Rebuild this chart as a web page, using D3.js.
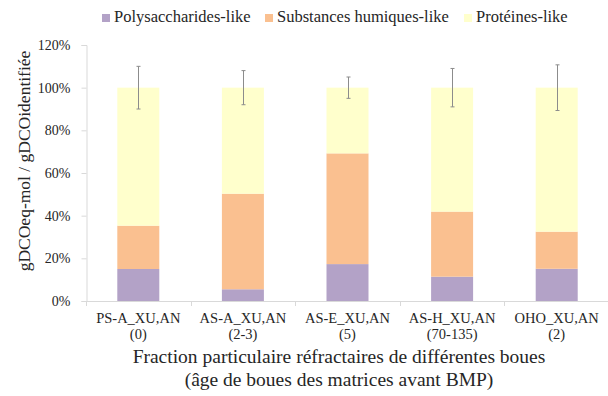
<!DOCTYPE html>
<html>
<head>
<meta charset="utf-8">
<script src="https://cdn.jsdelivr.net/npm/d3@7"></script>
<style>
  html, body { margin: 0; padding: 0; background: #fff; }
  svg { display: block; }
  svg text { font-family: "Liberation Serif", "Times New Roman", serif; }
</style>
</head>
<body>
<svg id="chart" width="608" height="396"></svg>
<script>
// Sludge fractions and their age labels
const categories = ["PS-A_XU,AN", "AS-A_XU,AN", "AS-E_XU,AN", "AS-H_XU,AN", "OHO_XU,AN"];
const ages = ["(0)", "(2-3)", "(5)", "(70-135)", "(2)"];

// Share of identified COD per fraction type
const polysaccharides = [0.15, 0.055, 0.173, 0.114, 0.151];
const humiques = [0.203, 0.448, 0.519, 0.305, 0.174];
const proteines = [0.647, 0.497, 0.308, 0.581, 0.675];

// Error on the total (±)
const errors = [0.10, 0.08, 0.05, 0.09, 0.107];

const seriesNames = ["Polysaccharides-like", "Substances humiques-like", "Protéines-like"];
const seriesColors = ["#B3A2C7", "#FAC090", "#FFFFCC"];
const yTicks = [0, 0.2, 0.4, 0.6, 0.8, 1.0, 1.2];

const FONT = "Liberation Serif";
const TEXT = "#262626";
const AXIS = "#D9D9D9";

const svg = d3.select("#chart");
const left = 86;

const xOuter = d3.scaleBand().domain(categories).range([left, 609]);
const y = d3.scaleLinear().domain([0, 1.2]).range([301, 45]);
const cxOf = c => xOuter(c) + xOuter.bandwidth() / 2;

const rows = categories.map((c, i) => ({
  cat: c, p: polysaccharides[i], h: humiques[i], t: proteines[i]
}));
const stack = d3.stack().keys(["p", "h", "t"])(rows);

// Stacked bars
svg.append("g").selectAll("g").data(stack).join("g")
  .attr("fill", (d, i) => seriesColors[i])
  .selectAll("rect").data(d => d).join("rect")
  .attr("x", d => cxOf(d.data.cat) - 21)
  .attr("width", 42)
  .attr("y", d => y(d[1]))
  .attr("height", d => y(d[0]) - y(d[1]));

// Y axis
const yAxis = d3.axisLeft(y).tickValues(yTicks).tickFormat(d3.format(".0%")).tickSize(5).tickPadding(11);
const gy = svg.append("g").attr("transform", `translate(${left + 0.5},0)`).call(yAxis)
  .attr("font-family", FONT);
gy.select(".domain").attr("stroke", AXIS);
gy.selectAll(".tick line").attr("stroke", AXIS);
gy.selectAll(".tick text").attr("font-size", 14).attr("fill", TEXT).attr("font-family", FONT);

// X axis with category boundary ticks
svg.append("line").attr("x1", left).attr("x2", 608)
  .attr("y1", y(0) + 0.5).attr("y2", y(0) + 0.5).attr("stroke", AXIS);
const bounds = categories.map(c => xOuter(c)).concat([xOuter.range()[1]]);
svg.append("g").selectAll("line").data(bounds).join("line")
  .attr("x1", d => Math.round(d) + 0.5).attr("x2", d => Math.round(d) + 0.5)
  .attr("y1", y(0)).attr("y2", y(0) + 5).attr("stroke", AXIS);

// Category labels
const lbl = svg.append("g").attr("font-size", 14.5).attr("fill", TEXT)
  .attr("text-anchor", "middle").attr("font-family", FONT);
categories.forEach((c, i) => {
  lbl.append("text").attr("x", cxOf(c)).attr("y", 323).text(c);
  lbl.append("text").attr("x", cxOf(c)).attr("y", 339).text(ages[i]);
});

// Error bars on totals
const totals = rows.map(r => r.p + r.h + r.t);
const eb = svg.append("g").attr("stroke", "#8C8C8C").attr("stroke-width", 1);
categories.forEach((c, i) => {
  const cx = Math.round(cxOf(c)) + 0.5;
  const top = y(totals[i] + errors[i]), bot = y(totals[i] - errors[i]);
  eb.append("line").attr("x1", cx).attr("x2", cx).attr("y1", top).attr("y2", bot);
  eb.append("line").attr("x1", cx - 2).attr("x2", cx + 2).attr("y1", top).attr("y2", top);
  eb.append("line").attr("x1", cx - 2).attr("x2", cx + 2).attr("y1", bot).attr("y2", bot);
});

// Axis titles
const titles = svg.append("g").attr("fill", TEXT).attr("font-family", FONT);
titles.append("text").attr("x", 339).attr("y", 363).attr("text-anchor", "middle")
  .attr("font-size", 19.5)
  .text("Fraction particulaire réfractaires de différentes boues");
titles.append("text").attr("x", 339).attr("y", 386).attr("text-anchor", "middle")
  .attr("font-size", 19.5)
  .text("(âge de boues des matrices avant BMP)");
titles.append("text").attr("transform", "translate(30,161) rotate(-90)")
  .attr("text-anchor", "middle").attr("font-size", 17.5)
  .text("gDCOeq-mol / gDCOidentifiée");

// Legend
const legendX = [102, 265, 464];
const lg = svg.append("g").attr("font-size", 16.5).attr("fill", TEXT).attr("font-family", FONT);
seriesNames.forEach((n, i) => {
  lg.append("rect").attr("x", legendX[i]).attr("y", 14).attr("width", 8).attr("height", 8)
    .attr("fill", seriesColors[i]);
  lg.append("text").attr("x", legendX[i] + 12).attr("y", 22).text(n);
});
</script>
</body>
</html>
